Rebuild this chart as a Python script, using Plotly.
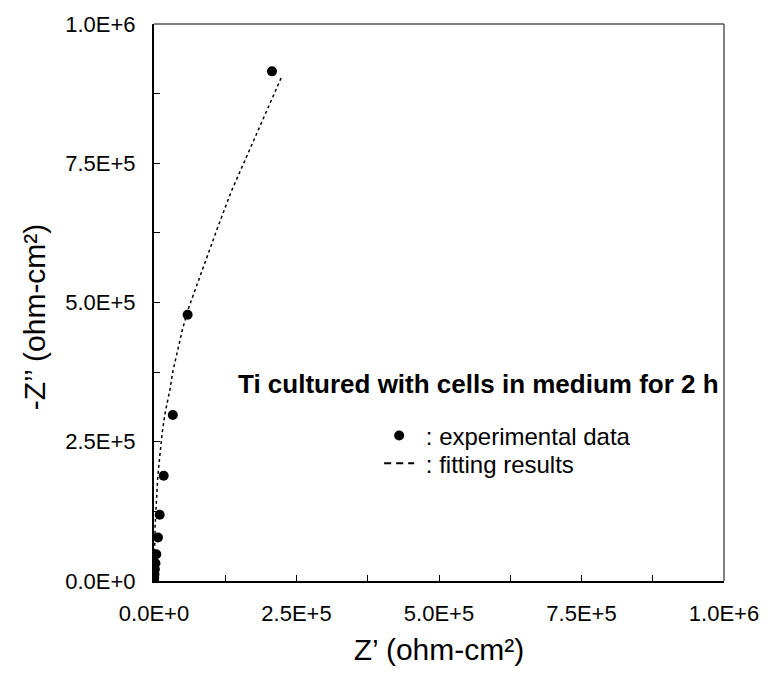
import plotly.graph_objects as go

# experimental data (Z', -Z'') in ohm-cm2
exp_zre = [2.07e5, 5.9e4, 3.3e4, 1.7e4, 1.0e4, 7.0e3, 4.0e3, 2.5e3, 1.5e3, 8.0e2, 4.0e2, 1.0e2]
exp_zim = [9.15e5, 4.78e5, 2.98e5, 1.89e5, 1.19e5, 7.8e4, 4.8e4, 3.2e4, 2.1e4, 1.2e4, 6.0e3, 1.0e3]

# fitting results
fit_zre = [2.23e5, 1.93e5, 1.64e5, 1.35e5, 1.10e5, 8.5e4, 6.0e4, 5.0e4, 4.1e4, 3.3e4, 2.8e4,
           1.9e4, 1.4e4, 1.0e4, 7.0e3, 5.0e3, 3.0e3, 2.0e3, 1.0e3, 5.0e2]
fit_zim = [9.03e5, 8.34e5, 7.64e5, 6.98e5, 6.30e5, 5.60e5, 4.88e5, 4.52e5, 4.11e5, 3.76e5, 3.44e5,
           2.99e5, 2.63e5, 2.28e5, 1.92e5, 1.57e5, 1.30e5, 1.00e5, 5.0e4, 1.0e4]

tick_vals = [0, 2.5e5, 5.0e5, 7.5e5, 1.0e6]
tick_text = ["0.0E+0", "2.5E+5", "5.0E+5", "7.5E+5", "1.0E+6"]

FONT = "Arial, 'Liberation Sans', sans-serif"

fig = go.Figure()
fig.add_trace(go.Scatter(x=exp_zre, y=exp_zim, mode="markers",
                         marker=dict(color="black", size=10),
                         name=" : experimental data", legend="legend"))
fig.add_trace(go.Scatter(x=fit_zre, y=fit_zim, mode="lines",
                         line=dict(color="black", width=1.5, dash="3px,3px"),
                         name="fit", showlegend=False))
# legend-only entry for the fitting curve (longer dashes like the reference key)
fig.add_trace(go.Scatter(x=[None], y=[None], mode="lines",
                         line=dict(color="black", width=2, dash="7px,5px"),
                         name=" : fitting results", legend="legend2"))

axis_common = dict(range=[0, 1e6], tickvals=tick_vals, ticktext=tick_text,
                   ticks="inside", ticklen=6, tickcolor="black", tickwidth=1,
                   minor=dict(ticks="inside", dtick=1.25e5, ticklen=6, tickcolor="black"),
                   showline=True, linecolor="black", linewidth=2,
                   showgrid=False, zeroline=False,
                   tickfont=dict(family=FONT, size=22, color="black"))

fig.update_xaxes(**axis_common, ticklabelstandoff=12,
                 title=dict(text="Z’ (ohm-cm²)", font=dict(family=FONT, size=30, color="black"),
                            standoff=14))
fig.update_yaxes(**axis_common, ticklabelstandoff=12)

# y-axis title
fig.add_annotation(xref="paper", yref="paper", x=-0.209, y=0.475, xanchor="center", yanchor="middle",
                   textangle=-90, showarrow=False,
                   text="-Z’’ (ohm-cm²)", font=dict(family=FONT, size=30, color="black"))

# top and right frame lines
fig.add_shape(type="line", xref="paper", yref="paper", x0=0, x1=1, y0=1, y1=1,
              line=dict(color="#555555", width=1.5))
fig.add_shape(type="line", xref="paper", yref="paper", x0=1, x1=1, y0=0, y1=1,
              line=dict(color="#555555", width=1.5))

fig.add_annotation(xref="paper", yref="paper", x=0.995, y=0.354, xanchor="right", yanchor="middle",
                   text="<b>Ti cultured with cells in medium for 2 h</b>", showarrow=False,
                   font=dict(family=FONT, size=26, color="black"))

legend_common = dict(xanchor="left", yanchor="top", bgcolor="rgba(0,0,0,0)",
                     font=dict(family=FONT, size=24, color="black"), itemwidth=30)

fig.update_layout(
    width=771, height=674,
    margin=dict(l=154, r=38, t=19, b=93),
    plot_bgcolor="white", paper_bgcolor="white",
    showlegend=True,
    legend=dict(x=0.395, y=0.301, **legend_common),
    legend2=dict(x=0.395, y=0.251, **legend_common),
)

fig.write_html("out.html")
